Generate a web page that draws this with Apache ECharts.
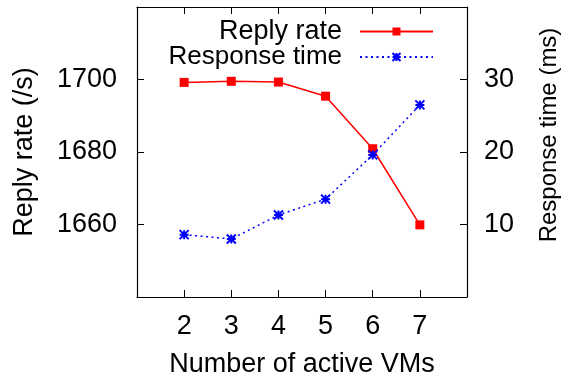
<!DOCTYPE html>
<html>
<head>
<meta charset="utf-8">
<script src="https://cdn.jsdelivr.net/npm/echarts@6/dist/echarts.min.js"></script>
<style>
    html, body { margin: 0; padding: 0; background: #fff; }
    #chart { width: 565px; height: 376px; }
</style>
</head>
<body>
<div id="chart"></div>
<script>
// data
const vms = [2, 3, 4, 5, 6, 7];
const replyRate = [1699.2, 1699.5, 1699.3, 1695.4, 1680.9, 1659.9];   // /s
const responseTime = [8.6, 8.0, 11.3, 13.5, 19.6, 26.5];             // ms

const FONT = "Liberation Sans";
const FS = 27;

// gnuplot style asterisk (+ over x)
const starPath = "path://M0,0L10,10M10,0L0,10M5,0L5,10M0,5L10,5";

const chart = echarts.init(document.getElementById("chart"));

const axisLine = { show: true, lineStyle: { color: "#000", width: 1.2 } };
const tick = { show: true, inside: true, length: 7, lineStyle: { color: "#000", width: 1 } };

chart.setOption({
    animation: false,
    textStyle: { fontFamily: FONT, color: "#000" },
    grid: { left: 137, right: 98, top: 7, bottom: 79, outerBoundsMode: "none", containLabel: false },
    legend: [
        {
            data: ["Reply rate"],
            right: 131, top: 18,
            align: "right",
            itemWidth: 73, itemHeight: 10,
            padding: 0,
            textStyle: { fontFamily: FONT, fontSize: FS, color: "#000", padding: [0, 13, 0, 0] }
        },
        {
            data: ["Response time"],
            right: 131, top: 44,
            align: "right",
            itemWidth: 73, itemHeight: 10,
            padding: 0,
            textStyle: { fontFamily: FONT, fontSize: 26, color: "#000", padding: [0, 13, 0, 0] }
        }
    ],
    // right axis title: a bit above the plot centre in the original
    graphic: [
        {
            type: "text",
            x: 549, y: 135,
            rotation: Math.PI / 2,
            style: {
                text: "Response time (ms)",
                fontFamily: FONT, fontSize: 24, fill: "#000",
                align: "center", verticalAlign: "middle"
            }
        }
    ],
    xAxis: [
        {
            type: "value", min: 1, max: 8, interval: 1,
            position: "bottom",
            name: "Number of active VMs",
            nameLocation: "middle",
            nameGap: 54,
            nameTextStyle: { fontFamily: FONT, fontSize: FS, color: "#000" },
            axisLine: axisLine,
            axisTick: tick,
            splitLine: { show: false },
            axisLabel: {
                fontFamily: FONT, fontSize: FS, color: "#000", margin: 16,
                formatter: v => (v >= 2 && v <= 7 ? String(v) : "")
            }
        },
        {
            type: "value", min: 1, max: 8, interval: 1,
            position: "top",
            axisLine: axisLine,
            axisTick: tick,
            splitLine: { show: false },
            axisLabel: { show: false }
        }
    ],
    yAxis: [
        {
            type: "value", min: 1640, max: 1720, interval: 20,
            position: "left",
            name: "Reply rate (/s)",
            nameLocation: "middle",
            nameGap: 99,
            nameTextStyle: { fontFamily: FONT, fontSize: FS, color: "#000" },
            axisLine: axisLine,
            axisTick: tick,
            splitLine: { show: false },
            axisLabel: {
                fontFamily: FONT, fontSize: FS, color: "#000", margin: 20,
                formatter: v => (v > 1640 && v < 1720 ? String(v) : "")
            }
        },
        {
            type: "value", min: 0, max: 40, interval: 10,
            position: "right",
            axisLine: axisLine,
            axisTick: tick,
            splitLine: { show: false },
            axisLabel: {
                fontFamily: FONT, fontSize: FS, color: "#000", margin: 17,
                formatter: v => (v > 0 && v < 40 ? String(v) : "")
            }
        }
    ],
    series: [
        {
            name: "Reply rate",
            type: "line",
            xAxisIndex: 0, yAxisIndex: 0,
            data: vms.map((v, i) => [v, replyRate[i]]),
            symbol: "rect",
            symbolSize: 9,
            itemStyle: { color: "#ff0000" },
            lineStyle: { color: "#ff0000", width: 1.5, type: "solid" }
        },
        {
            name: "Response time",
            type: "line",
            xAxisIndex: 0, yAxisIndex: 1,
            data: vms.map((v, i) => [v, responseTime[i]]),
            symbol: starPath,
            symbolSize: 9,
            itemStyle: { color: "#0000ff", borderColor: "#0000ff", borderWidth: 2 },
            lineStyle: { color: "#0000ff", width: 1.5, type: [2, 3.5] }
        }
    ]
});
</script>
</body>
</html>
